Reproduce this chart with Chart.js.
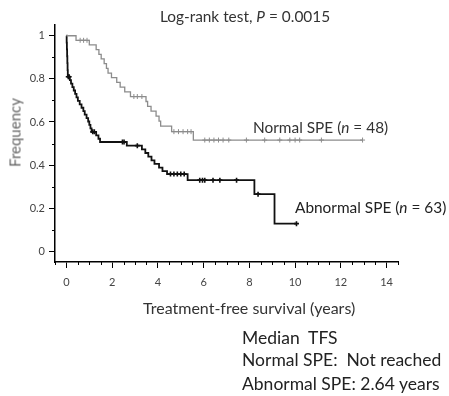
<!DOCTYPE html>
<html>
<head>
<meta charset="utf-8">
<script src="https://cdn.jsdelivr.net/npm/chart.js@4"></script>
<style>
  html, body { margin: 0; padding: 0; background: #fff; }
  #wrap { position: relative; width: 449px; height: 396px; overflow: hidden; font-family: Lato, "Open Sans", sans-serif; color: #222; }
  #c { position: absolute; left: 0; top: 0; }
  .t { position: absolute; white-space: nowrap; line-height: 1; }
</style>
</head>
<body>
<div id="wrap">
  <canvas id="c" width="449" height="396"></canvas>
  <div class="t" id="title" style="left:0; width:490px; text-align:center; top:9px; font-size:15.4px; color:#333;">Log-rank test, <i>P</i> = 0.0015</div>
  <div class="t" style="left:-25px; top:125px; width:80px; text-align:center; font-size:15px; color:#666; transform:rotate(-90deg);">Frequency</div>
  <div class="t" style="left:143px; top:300px; font-size:16px; color:#333;">Treatment-free survival (years)</div>
  <div class="t" style="left:253px; top:120px; font-size:15.4px; color:#333;">Normal SPE (<i>n</i> = 48)</div>
  <div class="t" style="left:295px; top:200px; font-size:15.4px; color:#222;">Abnormal SPE (<i>n</i> = 63)</div>
  <div class="t" style="left:242px; top:329px; font-size:17.5px;">Median&nbsp; TFS</div>
  <div class="t" style="left:242px; top:351px; font-size:17.5px;">Normal SPE:&nbsp; Not reached</div>
  <div class="t" style="left:242px; top:375px; font-size:17.5px;">Abnormal SPE: 2.64 years</div>
</div>
<script>
// ---- data ----
const xTicks = [0, 2, 4, 6, 8, 10, 12, 14];
const yTicks = [0, 0.2, 0.4, 0.6, 0.8, 1];
const xMinorTicks = [-0.5, 0.5, 1, 1.5, 2.5, 3, 3.5, 4.5, 5, 5.5, 6.5, 7, 7.5, 8.5, 9, 9.5, 10.5, 11, 11.5, 12.5, 13, 13.5, 14.5];
const yMinorTicks = [0.1, 0.3, 0.5, 0.7, 0.9];

const normalTimes = [0, 0.42, 1.0, 1.3, 1.42, 1.52, 1.65, 1.75, 1.82, 1.97, 2.2, 2.35, 2.55, 2.8, 3.48, 3.55, 3.7, 3.92, 4.05, 4.12, 4.6, 5.55, 12.97];
const normalSurv  = [1, 0.979, 0.958, 0.936, 0.914, 0.893, 0.871, 0.849, 0.827, 0.806, 0.784, 0.762, 0.74, 0.718, 0.695, 0.672, 0.65, 0.627, 0.604, 0.581, 0.555, 0.516, 0.516];
const normalCensorTimes = [0.6, 0.75, 0.9, 2.95, 3.1, 3.3, 4.7, 4.9, 5.1, 5.3, 5.45, 6.05, 6.25, 6.45, 6.65, 6.85, 7.1, 7.87, 8.67, 9.33, 9.77, 10.0, 10.2, 11.15, 12.95];
const normalCensorSurv  = [0.979, 0.979, 0.979, 0.718, 0.718, 0.718, 0.555, 0.555, 0.555, 0.555, 0.555, 0.516, 0.516, 0.516, 0.516, 0.516, 0.516, 0.516, 0.516, 0.516, 0.516, 0.516, 0.516, 0.516, 0.516];

const abnormalTimes = [0, 0.01, 0.02, 0.03, 0.04, 0.05, 0.06, 0.15, 0.2, 0.26, 0.32, 0.38, 0.44, 0.5, 0.58, 0.66, 0.74, 0.8, 0.88, 0.95, 1.0, 1.05, 1.1, 1.3, 1.4, 1.47, 2.64, 3.3, 3.45, 3.58, 3.72, 3.85, 4.05, 4.2, 4.4, 5.3, 8.22, 9.1, 10.06];
const abnormalSurv  = [1, 0.968, 0.937, 0.905, 0.873, 0.841, 0.81, 0.794, 0.778, 0.762, 0.746, 0.73, 0.714, 0.698, 0.682, 0.666, 0.65, 0.634, 0.618, 0.602, 0.586, 0.57, 0.554, 0.538, 0.522, 0.507, 0.49, 0.473, 0.456, 0.439, 0.422, 0.405, 0.388, 0.372, 0.358, 0.33, 0.265, 0.128, 0.128];
const abnormalCensorTimes = [0.08, 0.12, 1.15, 1.22, 2.45, 2.52, 3.1, 4.55, 4.7, 4.85, 5.0, 5.15, 5.83, 5.95, 6.05, 6.41, 6.71, 7.44, 8.38, 10.06];
const abnormalCensorSurv  = [0.81, 0.81, 0.554, 0.554, 0.507, 0.507, 0.49, 0.358, 0.358, 0.358, 0.358, 0.358, 0.33, 0.33, 0.33, 0.33, 0.33, 0.33, 0.265, 0.128];

const pts = (xs, ys) => xs.map((x, i) => ({ x: x, y: ys[i] }));

const minorTicksPlugin = {
  id: 'minorTicks',
  afterDraw(chart) {
    const ctx = chart.ctx, xs = chart.scales.x, ys = chart.scales.y, area = chart.chartArea;
    ctx.save();
    ctx.strokeStyle = '#000';
    ctx.lineWidth = 1;
    ctx.beginPath();
    xMinorTicks.forEach(v => {
      const px = Math.round(xs.getPixelForValue(v)) + 0.5;
      ctx.moveTo(px, area.bottom);
      ctx.lineTo(px, area.bottom + 3);
    });
    yMinorTicks.forEach(v => {
      const py = Math.round(ys.getPixelForValue(v)) + 0.5;
      ctx.moveTo(area.left, py);
      ctx.lineTo(area.left - 3, py);
    });
    ctx.stroke();
    ctx.restore();
  }
};

new Chart(document.getElementById('c'), {
  type: 'line',
  data: {
    datasets: [
      { label: 'Normal SPE', data: pts(normalTimes, normalSurv), stepped: 'before', borderColor: '#8c8c8c', borderWidth: 1.3, pointRadius: 0, fill: false },
      { label: 'Abnormal SPE', data: pts(abnormalTimes, abnormalSurv), stepped: 'before', borderColor: '#111', borderWidth: 1.8, pointRadius: 0, fill: false },
      { type: 'scatter', label: 'Normal censored', data: pts(normalCensorTimes, normalCensorSurv), showLine: false, pointStyle: 'cross', pointRadius: 2.5, borderColor: '#8c8c8c', borderWidth: 1 },
      { type: 'scatter', label: 'Abnormal censored', data: pts(abnormalCensorTimes, abnormalCensorSurv), showLine: false, pointStyle: 'cross', pointRadius: 2.5, borderColor: '#111', backgroundColor: '#111', borderWidth: 1.6 }
    ]
  },
  options: {
    responsive: false,
    animation: false,
    devicePixelRatio: 1,
    layout: { padding: { left: 0, top: 25, right: 51, bottom: 74 } },
    plugins: { legend: { display: false }, tooltip: { enabled: false }, title: { display: false } },
    scales: {
      x: {
        type: 'linear', min: -0.5, max: 14.5,
        afterBuildTicks: s => { s.ticks = xTicks.map(v => ({ value: v })); },
        afterFit: s => { s.height = 60; },
        grid: { drawOnChartArea: false, drawTicks: true, tickLength: 6, tickColor: '#000', tickWidth: 1 },
        border: { display: true, color: '#000', width: 1.5 },
        ticks: { color: '#444', font: { family: 'Lato', size: 11 }, padding: 8, maxRotation: 0, autoSkip: false },
        title: { display: false }
      },
      y: {
        type: 'linear', min: -0.05, max: 1.05,
        afterBuildTicks: s => { s.ticks = yTicks.map(v => ({ value: v })); },
        afterFit: s => { s.width = 55; },
        grid: { drawOnChartArea: false, drawTicks: true, tickLength: 6, tickColor: '#000', tickWidth: 1 },
        border: { display: true, color: '#000', width: 1.5 },
        ticks: { color: '#444', font: { family: 'Lato', size: 11 }, padding: 4, autoSkip: false, callback: v => String(v) },
        title: { display: false }
      }
    }
  },
  plugins: [minorTicksPlugin]
});
</script>
</body>
</html>
